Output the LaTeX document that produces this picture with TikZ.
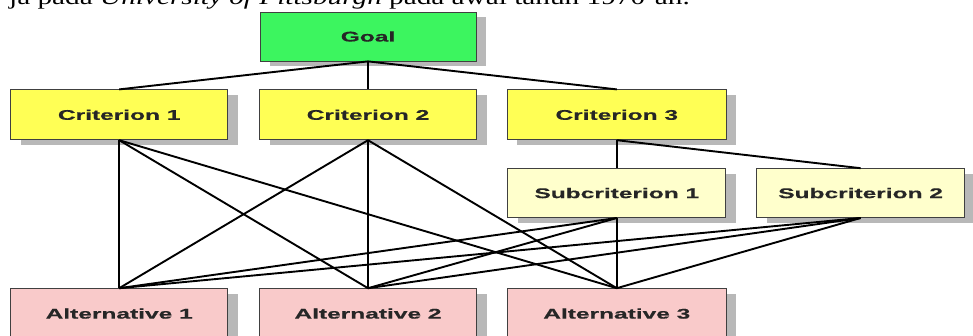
\documentclass[tikz,border=0pt]{standalone}
\usepackage{fontspec}
\setmainfont{Liberation Serif}
\newfontfamily\boxfont[FakeStretch=1.75,FakeBold=0.6]{Liberation Sans}
\newfontfamily\pagefont[FakeStretch=1.33]{Liberation Serif}
\usepackage{xcolor}
\usepackage{tikz}
\usetikzlibrary{positioning,shadows}
\definecolor{goalgreen}{RGB}{60,245,95}
\definecolor{crityellow}{RGB}{255,255,85}
\definecolor{subyellow}{RGB}{255,255,204}
\definecolor{altpink}{RGB}{249,202,202}
\tikzset{main node/.style={rectangle,draw=black!75,line width=0.8pt,minimum width=217pt,minimum height=50pt,inner sep=0pt,font=\boxfont\fontsize{14}{16}\selectfont\bfseries,text=black!85,drop shadow={shadow xshift=10pt,shadow yshift=-5pt,fill=black!28,opacity=1}},}

\begin{document}
\begin{tikzpicture}[x=1pt,y=1pt]
    \useasboundingbox (0,0) rectangle (973,336);
    \clip (0,0) rectangle (973,336);
    \node[anchor=base east,inner sep=0pt,font=\pagefont\fontsize{22}{24}\selectfont] (caption) at (690,331) {ja pada \textit{University of Pittsburgh} pada awal tahun 1970-an.};

    \node[main node,fill=goalgreen,minimum width=216pt,minimum height=49pt] (goal) at (368,299.5) {Goal};
    \node[main node,fill=crityellow] (c2) [below = 28pt of goal] {Criterion 2};
    \node[main node,fill=crityellow] (c1) [left = 31pt of c2] {Criterion 1};
    \node[main node,fill=crityellow,minimum width=219pt] (c3) [right = 30pt of c2] {Criterion 3};
    \node[main node,fill=subyellow,minimum width=218pt,minimum height=49pt] (s1) [below = 28pt of c3] {Subcriterion 1};
    \node[main node,fill=subyellow,minimum width=208pt,minimum height=49pt] (s2) [right = 30pt of s1] {Subcriterion 2};
    \node[main node,fill=altpink] (a2) [below = 148pt of c2] {Alternative 2};
    \node[main node,fill=altpink] (a1) [left = 31pt of a2] {Alternative 1};
    \node[main node,fill=altpink,minimum width=219pt] (a3) [right = 30pt of a2] {Alternative 3};

    \path[draw,line width=1.9pt]
    (goal.south) edge node {} (c1.north)
    (goal.south) edge node {} (c2.north)
    (goal.south) edge node {} (c3.north)
    (c1.south) edge node {} (a1.north)
    (c1.south) edge node {} (a2.north)
    (c1.south) edge node {} (a3.north)
    (c2.south) edge node {} (a1.north)
    (c2.south) edge node {} (a2.north)
    (c2.south) edge node {} (a3.north)
    (c3.south) edge node {} (s1.north)
    (c3.south) edge node {} (s2.north)
    (s1.south) edge node {} (a1.north)
    (s1.south) edge node {} (a2.north)
    (s1.south) edge node {} (a3.north)
    (s2.south) edge node {} (a1.north)
    (s2.south) edge node {} (a2.north)
    (s2.south) edge node {} (a3.north)
    ;
\end{tikzpicture}
\end{document}
